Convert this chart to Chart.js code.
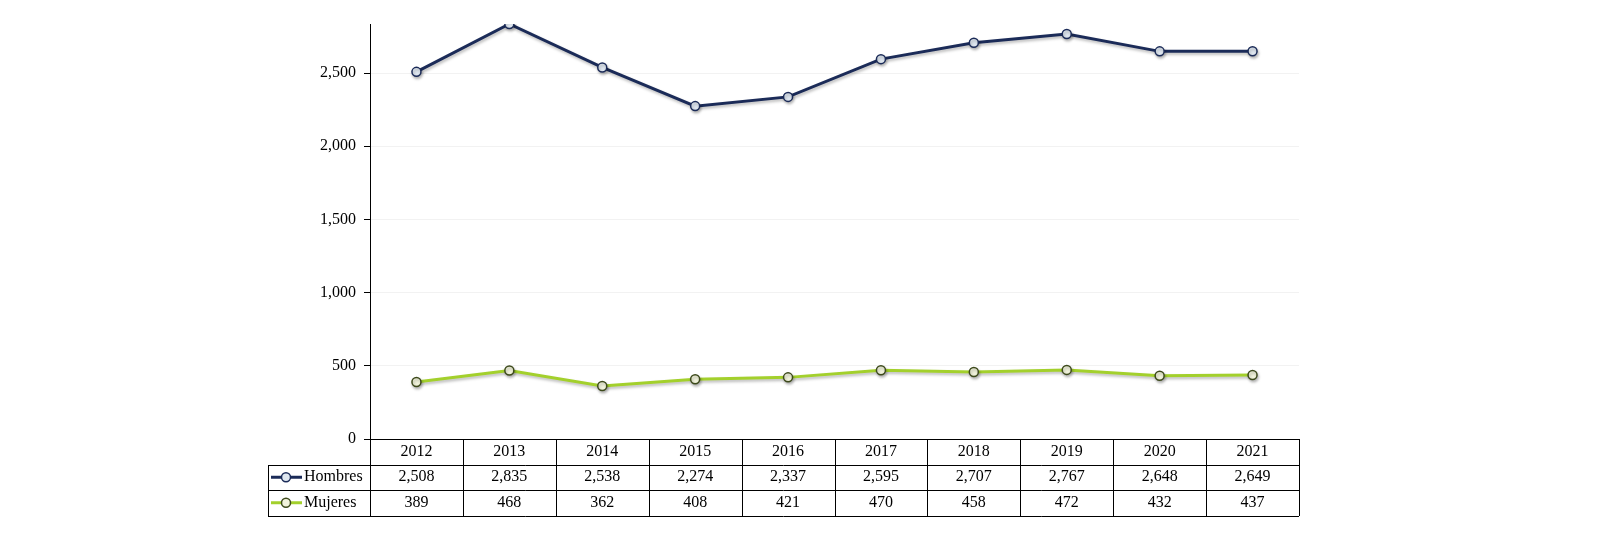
<html lang="es">
<head>
<meta charset="UTF-8">
<title>Hombres y Mujeres 2012-2021</title>
<script src="https://cdn.jsdelivr.net/npm/chart.js"></script>
<style>
    body { margin: 0; background: #fff; }
    #wrap { width: 1600px; height: 543px; }
</style>
</head>
<body>
<div id="wrap"><canvas id="chart" width="1600" height="543"></canvas></div>
<script>
const years = ['2012', '2013', '2014', '2015', '2016', '2017', '2018', '2019', '2020', '2021'];
const hombres = [2508, 2835, 2538, 2274, 2337, 2595, 2707, 2767, 2648, 2649];
const mujeres = [389, 468, 362, 408, 421, 470, 458, 472, 432, 437];
const yTicks = [0, 500, 1000, 1500, 2000, 2500];

const FONT = '16px "Liberation Serif", "DejaVu Serif", serif';
const fmt = v => v.toLocaleString('en-US');

// shadow under the lines
const lineShadow = {
    id: 'lineShadow',
    beforeDatasetsDraw(chart) {
        const c = chart.ctx;
        c.save();
        c.shadowColor = 'rgba(0,0,0,0.28)';
        c.shadowBlur = 3;
        c.shadowOffsetX = 1;
        c.shadowOffsetY = 2;
    },
    afterDatasetsDraw(chart) {
        chart.ctx.restore();
    }
};

// data table under the x axis
const dataTable = {
    id: 'dataTable',
    afterDraw(chart) {
        const c = chart.ctx;
        const x = chart.scales.x;
        const area = chart.chartArea;
        const left = 268, right = area.right;
        const y0 = area.bottom, rowH = 25.5;
        const colW = (area.right - area.left) / years.length;
        c.save();
        c.strokeStyle = '#000';
        c.lineWidth = 1;
        c.beginPath();
        c.moveTo(area.left, y0 + 0.5); c.lineTo(right, y0 + 0.5);
        for (let r = 1; r <= 3; r++) {
            const yy = Math.round(y0 + r * rowH) + 0.5;
            c.moveTo(left, yy); c.lineTo(right, yy);
        }
        c.moveTo(left + 0.5, Math.round(y0 + rowH)); c.lineTo(left + 0.5, Math.round(y0 + 3 * rowH));
        for (let i = 0; i <= years.length; i++) {
            const xx = Math.round(area.left + i * colW) + 0.5;
            c.moveTo(xx, y0); c.lineTo(xx, Math.round(y0 + 3 * rowH));
        }
        c.stroke();

        c.font = FONT;
        c.fillStyle = '#000';
        c.textAlign = 'center';
        c.textBaseline = 'middle';
        years.forEach((yr, i) => {
            const cx = x.getPixelForValue(i);
            c.fillText(yr, cx, y0 + rowH * 0.5);
            c.fillText(fmt(hombres[i]), cx, y0 + rowH * 1.5);
            c.fillText(fmt(mujeres[i]), cx, y0 + rowH * 2.5);
        });

        // legend keys
        chart.data.datasets.forEach((ds, k) => {
            const cy = y0 + rowH * (1.5 + k);
            c.strokeStyle = ds.borderColor;
            c.lineWidth = 3;
            c.beginPath();
            c.moveTo(271, cy); c.lineTo(302, cy);
            c.stroke();
            c.beginPath();
            c.arc(286, cy, 4.5, 0, Math.PI * 2);
            c.fillStyle = ds.pointBackgroundColor;
            c.fill();
            c.lineWidth = 1.5;
            c.strokeStyle = ds.pointBorderColor;
            c.stroke();
            c.fillStyle = '#000';
            c.textAlign = 'left';
            c.fillText(ds.label, 304, cy);
        });
        c.restore();
    }
};

new Chart(document.getElementById('chart'), {
    type: 'line',
    data: {
        labels: years,
        datasets: [{
            label: 'Hombres',
            data: hombres,
            borderColor: '#1b2b58',
            borderWidth: 3,
            pointBackgroundColor: '#dfe7f0',
            pointBorderColor: '#1b2b58',
            pointBorderWidth: 1.5,
            pointRadius: 4.5,
            tension: 0
        }, {
            label: 'Mujeres',
            data: mujeres,
            borderColor: '#a3d02c',
            borderWidth: 3,
            pointBackgroundColor: '#f1f3dc',
            pointBorderColor: '#3d4a1c',
            pointBorderWidth: 1.5,
            pointRadius: 4.5,
            tension: 0
        }]
    },
    options: {
        responsive: false,
        animation: false,
        layout: { padding: { left: 268, right: 301, top: 24, bottom: 104 } },
        plugins: {
            legend: { display: false },
            tooltip: { enabled: false }
        },
        scales: {
            x: {
                offset: true,
                grid: { display: false },
                border: { display: true, color: '#000', width: 1 },
                ticks: { display: false },
                afterFit(scale) { scale.height = 0; }
            },
            y: {
                min: 0,
                max: 2835,
                afterBuildTicks(scale) { scale.ticks = yTicks.map(v => ({ value: v })); },
                grid: { color: '#f2f2f2', tickColor: '#000', tickLength: 6 },
                border: { display: true, color: '#000', width: 1 },
                ticks: {
                    color: '#000',
                    font: { family: '"Liberation Serif", "DejaVu Serif", serif', size: 16 },
                    padding: 8,
                    callback: v => fmt(v)
                },
                afterFit(scale) { scale.width = 102; }
            }
        }
    },
    plugins: [lineShadow, dataTable]
});
</script>
</body>
</html>
